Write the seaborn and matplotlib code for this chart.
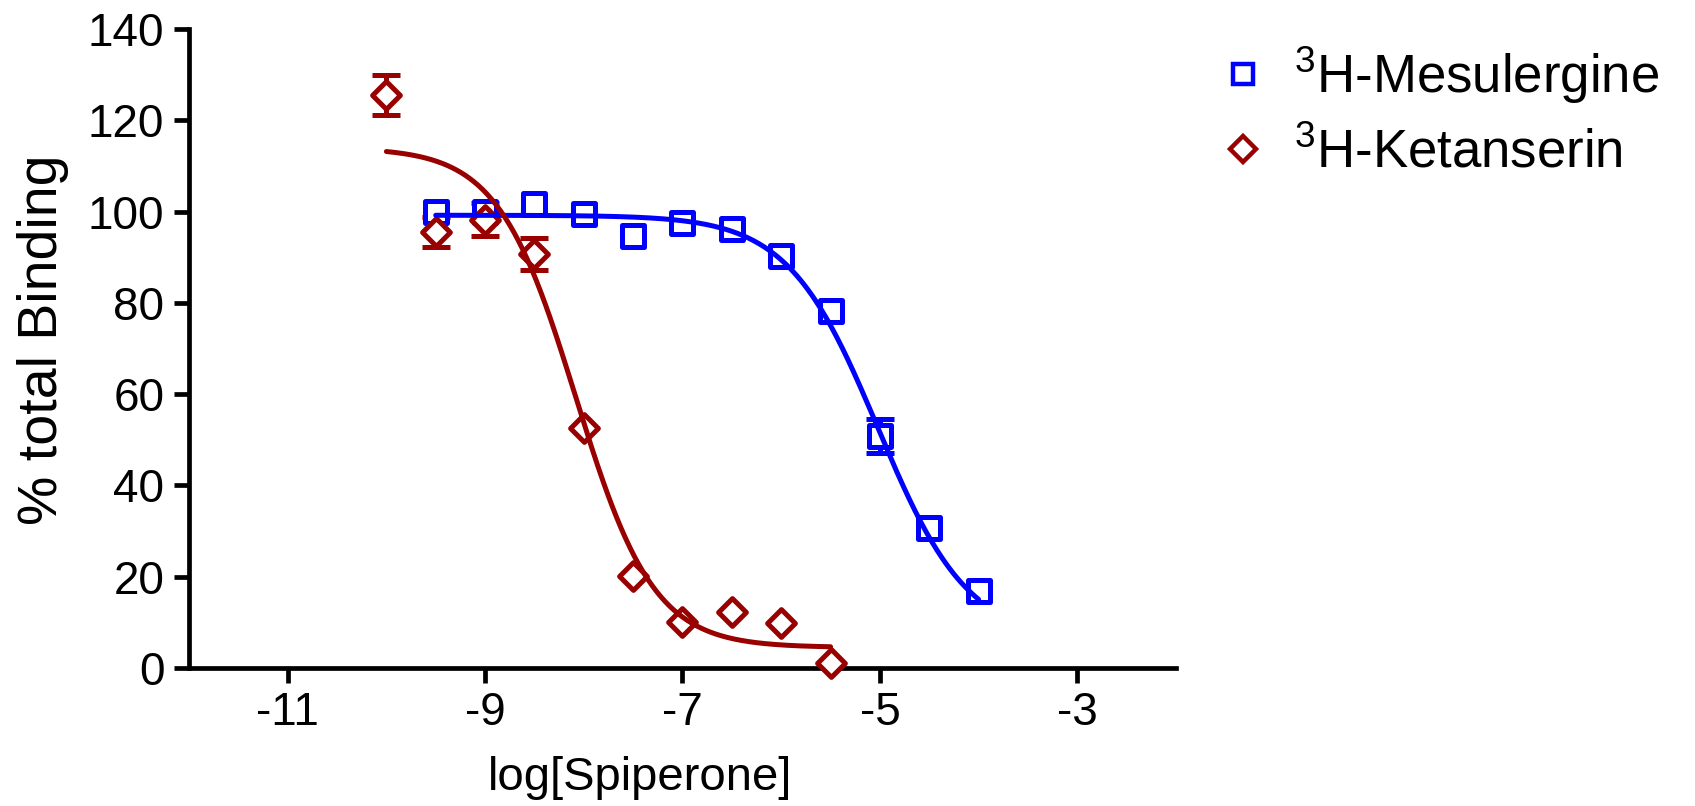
import numpy as np
import matplotlib
matplotlib.use("Agg")
import matplotlib.pyplot as plt
from matplotlib.lines import Line2D
import seaborn as sns

# ---------------- data ----------------
log_conc_mes = [-9.5, -9.0, -8.5, -8.0, -7.5, -7.0, -6.5, -6.0, -5.5, -5.0, -4.5, -4.0]
binding_mes = [99.8, 99.8, 101.7, 99.4, 94.7, 97.4, 96.1, 90.2, 78.3, 50.8, 30.7, 16.9]
sem_mes = [np.nan, np.nan, np.nan, np.nan, np.nan, np.nan, np.nan, np.nan, np.nan, 3.7, np.nan, np.nan]

log_conc_ket = [-10.0, -9.5, -9.0, -8.5, -8.0, -7.5, -7.0, -6.5, -6.0, -5.5]
binding_ket = [125.5, 95.5, 98.2, 90.8, 52.5, 20.2, 10.1, 12.2, 9.9, 1.0]
sem_ket = [4.4, 3.3, 3.6, 3.5, np.nan, np.nan, np.nan, np.nan, np.nan, np.nan]

# fitted one-site competition curves (top, bottom, logIC50, hill)
fit_mes = dict(top=99.2, bottom=6.0, logic50=-5.02, hill=0.95)
fit_ket = dict(top=114.0, bottom=4.5, logic50=-8.08, hill=1.1)

series_labels = [r"$\mathregular{^3}$H-Mesulergine", r"$\mathregular{^3}$H-Ketanserin"]
x_ticks = [-11, -9, -7, -5, -3]
y_ticks = [0, 20, 40, 60, 80, 100, 120, 140]
x_label = "log[Spiperone]"
y_label = "% total Binding"

BLUE = "#0000FF"
RED = "#990000"

# ---------------- style ----------------
sns.set_theme(style="ticks")
plt.rcParams["font.family"] = ["Liberation Sans", "DejaVu Sans"]
plt.rcParams["mathtext.fontset"] = "custom"
plt.rcParams["mathtext.rm"] = "Liberation Sans"
plt.rcParams["text.color"] = "black"
plt.rcParams["axes.labelcolor"] = "black"
plt.rcParams["xtick.color"] = "black"
plt.rcParams["ytick.color"] = "black"


def four_pl(x, top, bottom, logic50, hill):
    return bottom + (top - bottom) / (1.0 + 10 ** ((x - logic50) * hill))


fig = plt.figure(figsize=(16.95, 8.06), dpi=100)
ax = fig.add_axes([0.1115, 0.1712, 0.5823, 0.7928])

LW = 3.6

# curves
xs_mes = np.linspace(min(log_conc_mes), max(log_conc_mes), 300)
xs_ket = np.linspace(min(log_conc_ket), max(log_conc_ket), 300)
sns.lineplot(x=xs_mes, y=four_pl(xs_mes, **fit_mes), color=BLUE, linewidth=LW,
             estimator=None, sort=False, ax=ax, zorder=5)
sns.lineplot(x=xs_ket, y=four_pl(xs_ket, **fit_ket), color=RED, linewidth=LW,
             estimator=None, sort=False, ax=ax, zorder=5)

# error bars
ax.errorbar(log_conc_mes, binding_mes, yerr=sem_mes, fmt="none", ecolor=BLUE,
            elinewidth=LW, capsize=10, capthick=LW, zorder=2, clip_on=False)
ax.errorbar(log_conc_ket, binding_ket, yerr=sem_ket, fmt="none", ecolor=RED,
            elinewidth=LW, capsize=10, capthick=LW, zorder=2, clip_on=False)

# points
sns.scatterplot(x=log_conc_mes, y=binding_mes, marker="s", s=265, color="white",
                edgecolor=BLUE, linewidth=LW, ax=ax, zorder=3, clip_on=False)
sns.scatterplot(x=log_conc_ket, y=binding_ket, marker="D", s=200, color="white",
                edgecolor=RED, linewidth=LW, ax=ax, zorder=4, clip_on=False)

# axes
ax.set_xlim(-12, -2)
ax.set_ylim(0, 140)
ax.set_xticks(x_ticks)
ax.set_yticks(y_ticks)
ax.set_xticklabels([str(t) for t in x_ticks], fontsize=33)
ax.set_yticklabels([str(t) for t in y_ticks], fontsize=33)
sns.despine(ax=ax)
for side in ("left", "bottom"):
    ax.spines[side].set_linewidth(3.4)
    ax.spines[side].set_color("black")
    ax.spines[side].set_capstyle("projecting")
ax.tick_params(axis="both", direction="out", length=10.8, width=3.4, color="black",
               labelcolor="black")
ax.tick_params(axis="y", pad=7)
ax.tick_params(axis="x", pad=6)
ax.grid(False)

ax.set_xlabel(x_label, fontsize=34, color="black")
ax.set_ylabel(y_label, fontsize=40, color="black")
ax.xaxis.set_label_coords(0.457, -0.138)
ax.yaxis.set_label_coords(-0.122, 0.513)

# legend
handles = [
    Line2D([], [], marker="s", linestyle="none", markersize=15, markerfacecolor="white",
           markeredgecolor=BLUE, markeredgewidth=3.2),
    Line2D([], [], marker="D", linestyle="none", markersize=13, markerfacecolor="white",
           markeredgecolor=RED, markeredgewidth=3.2),
]
leg = fig.legend(handles, series_labels, loc="upper left", bbox_to_anchor=(0.718, 0.945),
                 frameon=False, fontsize=38, handlelength=1.0, handletextpad=0.45,
                 labelspacing=0.44, borderpad=0, borderaxespad=0)
for t in leg.get_texts():
    t.set_color("black")

fig.savefig("out.png", dpi=100)
